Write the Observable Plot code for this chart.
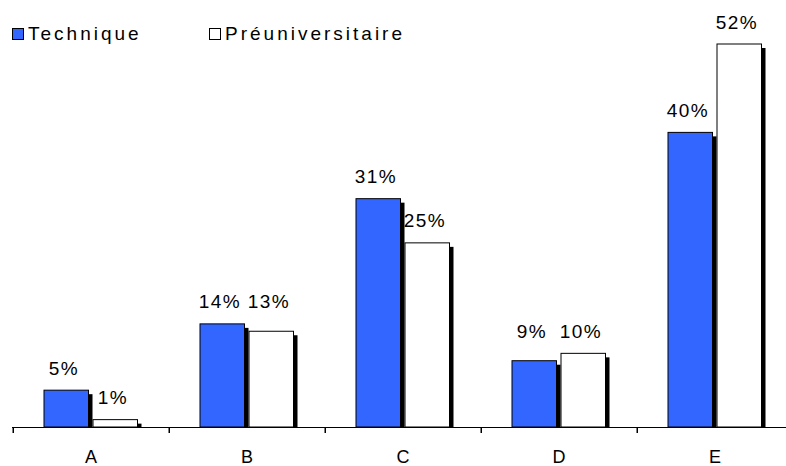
<!DOCTYPE html>
<html>
<head>
<meta charset="utf-8">
<script src="https://cdn.jsdelivr.net/npm/d3@7"></script>
<script src="https://cdn.jsdelivr.net/npm/@observablehq/plot@0.6"></script>
<style>
  html, body { margin: 0; padding: 0; background: #fff; }
  #wrap { position: relative; width: 786px; height: 466px; font-family: "Liberation Sans", Arial, sans-serif; }
  #legend { position: absolute; left: 0; top: 22px; width: 786px; height: 24px; font-size: 19px; letter-spacing: 3px; color: #000; }
  .item { position: absolute; top: 0; display: flex; align-items: center; height: 24px; }
  .sw { width: 10px; height: 10px; border: 1px solid #000; margin-right: 4px; box-sizing: content-box; }
</style>
</head>
<body>
<div id="wrap">
  <div id="chart"></div>
  <div id="legend"></div>
</div>
<script>
const categories = ["A", "B", "C", "D", "E"];
const seriesNames = ["Technique", "Préuniversitaire"];
const technique = [5, 14, 31, 9, 40];
const preuniversitaire = [1, 13, 25, 10, 52];
const colors = ["#3366FF", "#FFFFFF"];
const legendLeft = [12, 209];

const data = [];
categories.forEach((c, i) => {
  const t = technique[i], p = preuniversitaire[i];
  // labels of near-equal bars in a group share the higher label line
  const shared = Math.abs(t - p) <= 2 ? Math.max(t, p) : null;
  data.push({cat: c, series: seriesNames[0], value: t, labelAt: shared ?? t});
  data.push({cat: c, series: seriesNames[1], value: p, labelAt: shared ?? p});
});
const tech = data.filter(d => d.series === seriesNames[0]);
const pre = data.filter(d => d.series === seriesNames[1]);

const fmt = d => d.value + "%";
const font = {fontSize: 19, fontFamily: "Liberation Sans, Arial, sans-serif"};

const chart = Plot.plot({
  width: 786,
  height: 466,
  marginTop: 44,
  marginBottom: 39,
  marginLeft: 12,
  marginRight: 0,
  style: {background: "#fff", fontFamily: "Liberation Sans, Arial, sans-serif"},
  x: {domain: categories, range: [12, 794.5], padding: 0, axis: null},
  y: {domain: [0, 52], axis: null},
  marks: [
    // shadows
    Plot.barY(tech, {x: "cat", y: "value", fill: "#000", insetLeft: 31, insetRight: 80.5, dx: 4, dy: 4, clip: "frame"}),
    Plot.barY(pre, {x: "cat", y: "value", fill: "#000", insetLeft: 80, insetRight: 31.5, dx: 4, dy: 4, clip: "frame"}),
    // bars
    Plot.barY(tech, {x: "cat", y: "value", fill: colors[0], stroke: "#000", strokeWidth: 1, insetLeft: 31, insetRight: 80.5}),
    Plot.barY(pre, {x: "cat", y: "value", fill: colors[1], stroke: "#000", strokeWidth: 1, insetLeft: 80, insetRight: 31.5}),
    // value labels
    Plot.text(tech, {x: "cat", y: "labelAt", text: fmt, dx: -24.5 - 3, dy: -16, lineAnchor: "bottom", fill: "#000", className: "vlab", ...font}),
    Plot.text(pre, {x: "cat", y: "labelAt", text: fmt, dx: 24.5 - 3, dy: -16, lineAnchor: "bottom", fill: "#000", className: "vlab", ...font}),
    // axis line
    Plot.ruleY([0], {stroke: "#000", strokeWidth: 1}),
    // boundary ticks
    Plot.axisX({tickSize: 6, tickFormat: () => "", dx: -78.25, stroke: "#000", strokeWidth: 1.5, label: null}),
    // category labels
    Plot.axisX({tickSize: 0, tickPadding: 23, fontSize: 18, fill: "#000", label: null, className: "catlab"})
  ]
});
d3.select(chart).selectAll(".vlab text").attr("letter-spacing", "1.5px");
d3.select(chart).selectAll(".catlab text").attr("letter-spacing", "1px");
document.getElementById("chart").appendChild(chart);

const legend = document.getElementById("legend");
seriesNames.forEach((name, i) => {
  const item = document.createElement("div");
  item.className = "item";
  item.style.left = legendLeft[i] + "px";
  const sw = document.createElement("div");
  sw.className = "sw";
  sw.style.background = colors[i];
  const label = document.createElement("span");
  label.textContent = name;
  item.appendChild(sw);
  item.appendChild(label);
  legend.appendChild(item);
});
</script>
</body>
</html>
